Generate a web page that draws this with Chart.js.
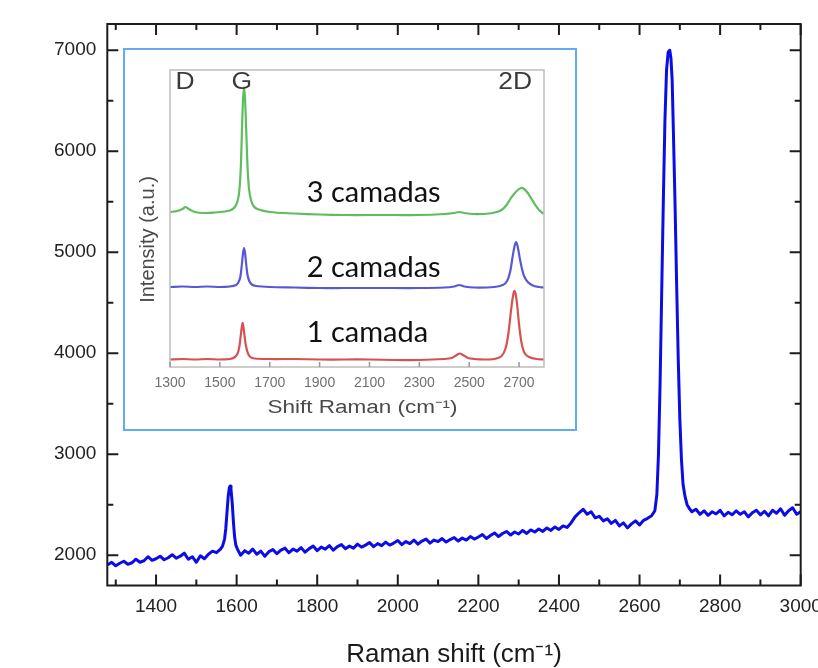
<!DOCTYPE html>
<html><head><meta charset="utf-8">
<script src="https://cdn.jsdelivr.net/npm/chart.js@4.4.1/dist/chart.umd.min.js"></script>
<style>
html,body{margin:0;padding:0;background:#fff;}
#wrap{position:relative;width:818px;height:668px;overflow:hidden;background:#fff;}
#main{position:absolute;left:0;top:0;}
#insetBox{position:absolute;left:123px;top:48px;width:454px;height:383px;border:2px solid #62adf2;box-sizing:border-box;background:#fff;}
#inset{position:absolute;left:0;top:0;}
</style></head><body>
<div id="wrap">
<canvas id="main" width="818" height="668"></canvas>
<div id="insetBox"><canvas id="inset" width="450" height="379"></canvas></div>
</div>
<script>
// ---- Main spectrum (Raman shift in cm^-1, intensity in counts) ----
const ramanShift = [
1280,1290,1300,1310,1320,1330,1340,1350,1360,1370,
1380,1390,1400,1410,1420,1430,1440,1450,1460,1470,
1480,1490,1500,1510,1520,1530,1540,1550,1560,1565,
1570,1573,1576,1579,1582,1584,1586,1589,1592,1595,
1598,1602,1606,1610,1620,1630,1640,1650,1660,1670,
1680,1690,1700,1710,1720,1730,1740,1750,1760,1770,
1780,1790,1800,1810,1820,1830,1840,1850,1860,1870,
1880,1890,1900,1910,1920,1930,1940,1950,1960,1970,
1980,1990,2000,2010,2020,2030,2040,2050,2060,2070,
2080,2090,2100,2110,2120,2130,2140,2150,2160,2170,
2180,2190,2200,2210,2220,2230,2240,2250,2260,2270,
2280,2290,2300,2310,2320,2330,2340,2350,2360,2370,
2380,2390,2400,2410,2420,2430,2440,2450,2460,2470,
2480,2490,2500,2510,2520,2530,2540,2550,2560,2570,
2580,2590,2600,2610,2620,2630,2638,2643,2647,2651,
2655,2659,2663,2667,2671,2675,2678,2681,2684,2688,
2692,2696,2700,2704,2708,2713,2718,2724,2730,2740,
2750,2760,2770,2780,2790,2800,2810,2820,2830,2840,
2850,2860,2870,2880,2890,2900,2910,2920,2930,2940,
2950,2960,2970,2980,2990,3000];
const intensity = [
1905,1930,1895,1920,1940,1910,1925,1960,1930,1945,
1985,1950,1965,1990,1955,1975,2005,1970,1990,2020,
1960,1985,1930,1995,1965,2010,2040,2025,2060,2090,
2160,2260,2420,2580,2670,2685,2650,2520,2330,2180,
2100,2060,2030,2000,2045,2020,2060,2010,2040,1990,
2035,2055,2015,2050,2070,2025,2060,2040,2075,2030,
2065,2090,2045,2080,2060,2095,2050,2085,2105,2065,
2090,2070,2110,2080,2100,2125,2085,2115,2095,2130,
2100,2120,2145,2105,2135,2115,2150,2110,2140,2160,
2120,2150,2135,2165,2130,2155,2175,2140,2170,2150,
2185,2160,2180,2205,2165,2195,2220,2185,2215,2235,
2200,2230,2210,2245,2215,2250,2230,2260,2235,2270,
2245,2280,2255,2290,2275,2320,2380,2420,2455,2405,
2430,2370,2385,2340,2360,2315,2345,2290,2320,2270,
2310,2340,2300,2345,2365,2390,2440,2600,3000,3700,
4600,5500,6300,6800,6980,7000,6920,6700,6200,5500,
4700,3950,3350,2950,2700,2580,2500,2460,2430,2455,
2405,2440,2395,2430,2410,2445,2390,2425,2400,2440,
2405,2430,2380,2420,2445,2400,2435,2390,2445,2415,
2460,2395,2440,2470,2405,2430];
const mainXTickLabels = [1400,1600,1800,2000,2200,2400,2600,2800,3000];
const mainXMinorTicks = [1300,1500,1700,1900,2100,2300,2500,2700,2900];
const mainYTickLabels = [2000,3000,4000,5000,6000,7000];
const mainYMinorTicks = [2500,3500,4500,5500,6500];

// ---- Inset: three spectra (arbitrary units) ----
const insetXTickLabels = [1300,1500,1700,1900,2100,2300,2500,2700];
const layerNames = ['3 camadas','2 camadas','1 camada'];
const peakNames = ['D','G','2D'];
const greenShift = [1300,1330,1350,1362,1375,1400,1440,1480,1520,1545,1560,1570,1578,1584,1589,1593,1597,1601,1606,1611,1617,1625,1635,1650,1700,1800,1900,2000,2100,2200,2300,2400,2440,2460,2480,2520,2580,2610,2630,2650,2665,2680,2695,2708,2720,2735,2750,2765,2780,2800];
const greenIntensity = [155,156,158,160,158,155,154,154.5,155.5,157,160,165,176,200,240,268,280,268,235,200,178,167,161,158,155,153.5,152.5,152,152,152,152,153,154,155,154,153,153.5,155,157,162,168,173,177,179,178,174,168,162,157,153];
const blueShift = [1300,1350,1400,1450,1500,1540,1565,1575,1582,1588,1593,1597,1601,1606,1611,1618,1628,1645,1700,1800,1900,2000,2100,2200,2300,2400,2440,2460,2480,2520,2600,2635,2652,2664,2674,2682,2688,2694,2702,2710,2720,2735,2755,2780,2800];
const blueIntensity = [80,80.5,80,80.5,80,80.5,82,85,90,102,114,119,114,102,92,86,82.5,81,80,79.5,79,79,79,79,79,79.5,80.5,82,80.5,79.5,80,82,86,95,110,121,125,121,110,100,91,85,81.5,80,79.5];
const redShift = [1300,1350,1400,1450,1500,1540,1558,1570,1578,1584,1588,1591,1594,1598,1604,1612,1622,1640,1700,1800,1900,2000,2100,2200,2300,2400,2430,2450,2462,2475,2495,2520,2560,2600,2628,2645,2657,2667,2675,2681,2687,2694,2701,2710,2722,2740,2770,2800];
const redIntensity = [7.5,8,7.5,8,7.5,8,9.5,13,20,32,40,44,41,33,22,14,10,8.5,8,8,7.5,7.5,7.5,7,7,8,9,12,13.5,12,9,8,7.5,8,10.5,18,33,55,70,76,72,58,40,24,14,10,8,7.5];

const SANS = '"Liberation Sans", Arial, Helvetica, sans-serif';
const pts = (xs, ys) => xs.map((x, i) => ({x: x, y: ys[i]}));

function txt(ctx, s, x, y, font, color, align, sx, rot) {
  ctx.save();
  ctx.translate(x, y);
  if (rot) ctx.rotate(rot);
  ctx.scale(sx || 1, 1);
  ctx.font = font; ctx.fillStyle = color;
  ctx.textAlign = align || 'center'; ctx.textBaseline = 'middle';
  ctx.fillText(s, 0, 0);
  ctx.restore();
}

const mainFrame = {
  id: 'mainFrame',
  afterDatasetsDraw(chart) {
    const {ctx, chartArea: a, scales: {x, y}} = chart;
    ctx.save();
    ctx.strokeStyle = '#1c1c1c';
    ctx.lineWidth = 2;
    ctx.strokeRect(a.left, a.top, a.right - a.left, a.bottom - a.top);
    ctx.beginPath();
    const xt = (v, len) => { const p = x.getPixelForValue(v);
      ctx.moveTo(p, a.bottom); ctx.lineTo(p, a.bottom - len);
      ctx.moveTo(p, a.top); ctx.lineTo(p, a.top + len); };
    const yt = (v, len) => { const p = y.getPixelForValue(v);
      ctx.moveTo(a.left, p); ctx.lineTo(a.left + len, p);
      ctx.moveTo(a.right, p); ctx.lineTo(a.right - len, p); };
    mainXTickLabels.forEach(v => xt(v, 11));
    mainXMinorTicks.forEach(v => xt(v, 6));
    mainYTickLabels.forEach(v => yt(v, 11));
    mainYMinorTicks.forEach(v => yt(v, 6));
    ctx.stroke();
    ctx.restore();
  }
};

const insetDecor = {
  id: 'insetDecor',
  afterDatasetsDraw(chart) {
    const {ctx, chartArea: a, scales: {x, y}} = chart;
    ctx.save();
    ctx.strokeStyle = '#bdbdbd';
    ctx.lineWidth = 1.5;
    ctx.strokeRect(a.left, a.top, a.right - a.left, a.bottom - a.top);
    ctx.strokeStyle = '#999';
    ctx.beginPath();
    insetXTickLabels.forEach(v => { const p = x.getPixelForValue(v);
      ctx.moveTo(p, a.bottom); ctx.lineTo(p, a.bottom - 5); });
    ctx.stroke();
    ctx.restore();
    // peak names
    const peakFont = '23px ' + SANS;
    const py = y.getPixelForValue(284);
    txt(ctx, peakNames[0], x.getPixelForValue(1360), py, peakFont, '#3a3a3a', 'center', 1.15);
    txt(ctx, peakNames[1], x.getPixelForValue(1588), py, peakFont, '#3a3a3a', 'center', 1.15);
    txt(ctx, peakNames[2], x.getPixelForValue(2684), py, peakFont, '#3a3a3a', 'center', 1.15);
    // layer labels
    const lf = '29px Lato, "Open Sans", sans-serif';
    const lx = x.getPixelForValue(1848);
    txt(ctx, layerNames[0], lx, y.getPixelForValue(174), lf, '#111', 'left');
    txt(ctx, layerNames[1], lx, y.getPixelForValue(99), lf, '#111', 'left');
    txt(ctx, layerNames[2], lx, y.getPixelForValue(34), lf, '#111', 'left');
    // axis titles
    txt(ctx, 'Shift Raman (cm⁻¹)', x.getPixelForValue(2072), a.bottom + 41, '18px ' + SANS, '#4a4a4a', 'center', 1.25);
    txt(ctx, 'Intensity (a.u.)', 23, y.getPixelForValue(127.5), '20px ' + SANS, '#4a4a4a', 'center', 1, -Math.PI / 2);
  }
};

new Chart(document.getElementById('main'), {
  type: 'line',
  data: {datasets: [{
    label: 'Raman', data: pts(ramanShift, intensity),
    borderColor: '#0c0ce4', borderWidth: 3, pointRadius: 0, tension: 0, fill: false,
    borderJoinStyle: 'round'
  }]},
  options: {
    responsive: false, animation: false, devicePixelRatio: 1,
    layout: {padding: {top: 24, right: 17.3, left: 0, bottom: 0}},
    plugins: {legend: {display: false}, tooltip: {enabled: false}},
    scales: {
      x: {
        type: 'linear', min: 1279, max: 3000,
        afterBuildTicks: s => { s.ticks = mainXTickLabels.map(v => ({value: v})); },
        afterFit: s => { s.height = 82.5; s.paddingLeft = 0; s.paddingRight = 0; },
        grid: {display: false, drawTicks: false}, border: {display: false},
        ticks: {autoSkip: false, maxRotation: 0, minRotation: 0, padding: 10, color: '#222',
                font: {family: SANS, size: 19}, callback: v => String(v)},
        title: {display: true, text: 'Raman shift (cm⁻¹)', color: '#1a1a1a',
                font: {family: SANS, size: 26, lineHeight: 1}, padding: {top: 0, bottom: 0}}
      },
      y: {
        type: 'linear', min: 1700, max: 7260,
        afterBuildTicks: s => { s.ticks = mainYTickLabels.map(v => ({value: v})); },
        afterFit: s => { s.width = 107.3; },
        grid: {display: false, drawTicks: false}, border: {display: false},
        ticks: {autoSkip: false, padding: 11, color: '#222',
                font: {family: SANS, size: 19}, callback: v => String(v)}
      }
    }
  },
  plugins: [mainFrame]
});

new Chart(document.getElementById('inset'), {
  type: 'line',
  data: {datasets: [
    {label: layerNames[0], data: pts(greenShift, greenIntensity), borderColor: '#5cbe5c', borderWidth: 2.2, pointRadius: 0, tension: 0.3, fill: false},
    {label: layerNames[1], data: pts(blueShift, blueIntensity), borderColor: '#5858d6', borderWidth: 2.2, pointRadius: 0, tension: 0.3, fill: false},
    {label: layerNames[2], data: pts(redShift, redIntensity), borderColor: '#d65252', borderWidth: 2.2, pointRadius: 0, tension: 0.3, fill: false}
  ]},
  options: {
    responsive: false, animation: false, devicePixelRatio: 1,
    layout: {padding: {top: 20, right: 31, left: 0, bottom: 0}},
    plugins: {legend: {display: false}, tooltip: {enabled: false}},
    scales: {
      x: {
        type: 'linear', min: 1300, max: 2800,
        afterBuildTicks: s => { s.ticks = insetXTickLabels.map(v => ({value: v})); },
        afterFit: s => { s.height = 62; s.paddingLeft = 0; s.paddingRight = 0; },
        grid: {display: false, drawTicks: false}, border: {display: false},
        ticks: {autoSkip: false, maxRotation: 0, minRotation: 0, padding: 8, color: '#707070',
                font: {family: SANS, size: 14}, callback: v => String(v)}
      },
      y: {
        type: 'linear', min: 0, max: 297,
        afterFit: s => { s.width = 45; },
        grid: {display: false, drawTicks: false}, border: {display: false},
        ticks: {display: false}
      }
    }
  },
  plugins: [insetDecor]
});
</script>
</body></html>
